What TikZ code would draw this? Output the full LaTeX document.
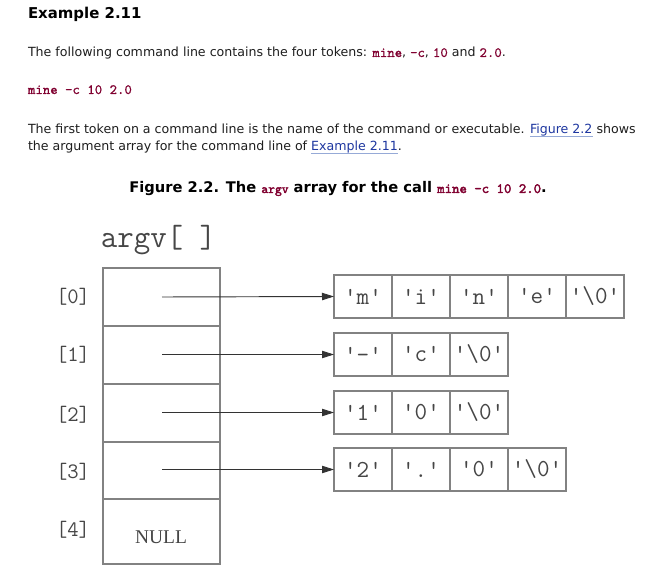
\documentclass[tikz,border=0pt]{standalone}
\usepackage{fontspec}
\setmainfont{DejaVu Sans}
\newfontfamily\cour{Latin Modern Mono}[Ligatures=TeXOff]
\newfontfamily\courmed{Latin Modern Mono}[Ligatures=TeXOff,FakeBold=0.8]
\newfontfamily\courbold{Latin Modern Mono}[Ligatures=TeXOff,FakeBold=2.5]
\newfontfamily\tms{Liberation Serif}
\usetikzlibrary{arrows.meta}
\definecolor{codered}{RGB}{128,0,48}
\definecolor{linkblue}{RGB}{30,55,160}
\definecolor{ulblue}{RGB}{150,170,215}
\definecolor{linegray}{RGB}{130,130,130}
\definecolor{figtext}{RGB}{70,70,70}
\definecolor{bodytext}{RGB}{30,30,30}
\newcommand\cd[1]{{\courmed\color{codered}#1}}
\newcommand\cdb[1]{{\courbold\color{codered}#1}}
\newcommand\lnk[1]{\setbox0=\hbox{#1}\rlap{\textcolor{ulblue}{\rule[-2pt]{\wd0}{0.8pt}}}\textcolor{linkblue}{#1}}
\newcommand\qq[1]{'#1'}
\tikzset{
  txt/.style={anchor=base west, inner sep=0pt, outer sep=0pt, text=bodytext},
  arrcell/.style={draw=linegray, line width=0.9pt, minimum width=87.75pt, minimum height=43.5pt, inner sep=0pt, outer sep=0pt},
  chcell/.style={draw=linegray, line width=0.9pt, minimum width=43.5pt, minimum height=32.25pt, inner sep=0pt, outer sep=0pt, text=figtext, font=\cour\fontsize{18.3}{18}\selectfont},
  idx/.style={inner sep=0pt, text=figtext, font=\cour\fontsize{16.5}{16}\selectfont},
  ptr/.style={draw=black!80, line width=0.7pt, -{Triangle[length=9pt,width=5.5pt]}}
}
\begin{document}
\begin{tikzpicture}[x=0.75pt,y=-0.75pt]
\useasboundingbox[fill=white] (0,0) rectangle (651,581);
% text
\node[txt, text=black, font=\bfseries\fontsize{11.2}{14}\selectfont] (title) at (28,19) {Example 2.11};
\node[txt, font=\fontsize{9.45}{12}\selectfont] (l1) at (28,57) {The following command line contains the four tokens: {\fontsize{10.6}{12}\selectfont\cd{mine}}, {\fontsize{10.6}{12}\selectfont\cd{-c}}, {\fontsize{10.6}{12}\selectfont\cd{10}} and {\fontsize{10.6}{12}\selectfont\cd{2.0}}.};
\node[txt, font=\fontsize{10.6}{12}\selectfont] (l2) at (28,94) {\cd{mine -c 10 2.0}};
\node[txt, font=\fontsize{9.45}{12}\selectfont] (l3) at (28,134) {The first token on a command line is the name of the command or executable. \lnk{Figure 2.2} shows};
\node[txt, font=\fontsize{9.45}{12}\selectfont] (l4) at (28,151) {the argument array for the command line of \lnk{Example 2.11}.};
\node[anchor=base, inner sep=0pt, text=black, font=\bfseries\fontsize{11}{13}\selectfont] (cap) at (338,193) {Figure 2.2. The {\fontsize{9.7}{10}\selectfont\cdb{argv}} array for the call {\fontsize{10.6}{10}\selectfont\cdb{mine -c 10 2.0}}.};
% argv label
\node[inner sep=0pt, text=figtext, font=\cour\fontsize{24}{24}\selectfont] (argv) at (158.5,240) {argv[ ]};
% array cells
\node[arrcell] (a0) at (161.5,297) {};
\node[arrcell] (a1) at (161.5,355) {};
\node[arrcell] (a2) at (161.5,413) {};
\node[arrcell] (a3) at (161.5,470.5) {};
\node[arrcell, minimum height=48.75pt] (a4) at (161.5,531.5) {};
\node[inner sep=0pt, text=figtext, font=\tms\fontsize{14.6}{15}\selectfont] (null) at (161,537) {NULL};
% indices
\node[idx] (i0) at (73,297) {[0]};
\node[idx] (i1) at (73,355) {[1]};
\node[idx] (i2) at (73,415) {[2]};
\node[idx] (i3) at (73,472) {[3]};
\node[idx] (i4) at (73,530) {[4]};
% pointer starts
\coordinate (p0) at (162,297);
\coordinate (p1) at (162,354.5);
\coordinate (p2) at (162,412.5);
\coordinate (p3) at (162,469.5);
% string cells
\node[chcell] (s00) at (363,296.5) {\qq{m}};
\node[chcell] (s01) at (421,296.5) {\qq{i}};
\node[chcell] (s02) at (479,296.5) {\qq{n}};
\node[chcell] (s03) at (537,296.5) {\qq{e}};
\node[chcell] (s04) at (595,296.5) {\qq{\textbackslash0}};
\node[chcell] (s10) at (363,354.5) {\qq{-}};
\node[chcell] (s11) at (421,354.5) {\qq{c}};
\node[chcell] (s12) at (479,354.5) {\qq{\textbackslash0}};
\node[chcell] (s20) at (363,412.5) {\qq{1}};
\node[chcell] (s21) at (421,412.5) {\qq{0}};
\node[chcell] (s22) at (479,412.5) {\qq{\textbackslash0}};
\node[chcell] (s30) at (363,469.5) {\qq{2}};
\node[chcell] (s31) at (421,469.5) {\qq{.}};
\node[chcell] (s32) at (479,469.5) {\qq{0}};
\node[chcell] (s33) at (537,469.5) {\qq{\textbackslash0}};
% pointers
\draw[ptr] (p0) -- (s00.west);
\draw[ptr] (p1) -- (s10.west);
\draw[ptr] (p2) -- (s20.west);
\draw[ptr] (p3) -- (s30.west);
\end{tikzpicture}
\end{document}
